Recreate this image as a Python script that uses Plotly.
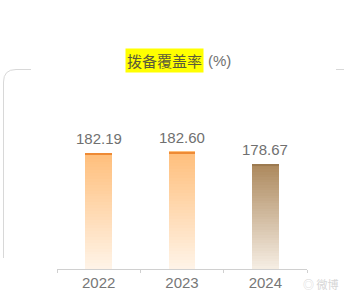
import plotly.graph_objects as go

# ---- data ----
categories = ["2022", "2023", "2024"]
values = [182.19, 182.60, 178.67]
value_labels = ["182.19", "182.60", "178.67"]
title_text = "拨备覆盖率"
unit_text = "(%)"

# ---- style ----
W, H = 344, 296
L, R, T, B = 57, 37, 100, 27
y_min, y_max = 145.9, 198.7
top_colors = [(255, 190, 122), (255, 190, 122), (172, 136, 92)]
bot_colors = [(255, 244, 232), (255, 244, 232), (246, 238, 228)]
edge_colors = ["#EE8A35", "#EE8A35", "#9C7A50"]
N = 40
bar_w = 0.32

fig = go.Figure()

def mix(c1, c2, t):
    return "rgb(%d,%d,%d)" % tuple(round(a + (b - a) * t) for a, b in zip(c1, c2))

# gradient bars as stacked slices derived from the values
for i in range(N):
    bases, heights, cols = [], [], []
    for v, tc, bc in zip(values, top_colors, bot_colors):
        seg = (v - y_min) / N
        bases.append(y_min + seg * i)
        heights.append(seg * 1.02)
        cols.append(mix(bc, tc, (i + 0.5) / N))
    fig.add_trace(go.Bar(x=categories, y=heights, base=bases, width=bar_w,
                         marker=dict(color=cols, line=dict(width=0)),
                         hoverinfo="skip", showlegend=False))

# top edge line of each bar
edge_h = 0.55
fig.add_trace(go.Bar(x=categories, y=[edge_h] * 3, base=[v - edge_h for v in values],
                     width=bar_w, marker=dict(color=edge_colors, line=dict(width=0)),
                     hoverinfo="skip", showlegend=False))

# value labels (x given as category index)
for i, (v, lab) in enumerate(zip(values, value_labels)):
    fig.add_annotation(x=i, y=v, text=lab, showarrow=False, yanchor="bottom",
                       yshift=4, font=dict(family="Liberation Sans, Arial", size=15, color="#707070"))

def px(x):
    return (x - L) / (W - L - R)

def py(y):
    return (H - B - y) / (H - T - B)

# title
fig.add_annotation(xref="paper", yref="paper", x=px(204), y=py(61), xanchor="right",
                   yanchor="middle", text=title_text, showarrow=False, bgcolor="#FFFF00",
                   borderpad=1,
                   font=dict(family="Noto Sans CJK SC", size=15, color="#5a5a3a"))
fig.add_annotation(xref="paper", yref="paper", x=px(206), y=py(61), xanchor="left",
                   yanchor="middle", text=unit_text, showarrow=False,
                   font=dict(family="Liberation Sans, Arial", size=15, color="#707070"))

# watermark
fig.add_annotation(xref="paper", yref="paper", x=px(340), y=py(284), xanchor="right",
                   yanchor="middle", text="◎ 微博", showarrow=False,
                   font=dict(family="Noto Sans CJK SC", size=11, color="#d6d6d6"))

# decorative rounded frame
path = "M %f,%f L %f,%f Q %f,%f %f,%f L %f,%f" % (
    px(3.5), py(258), px(3.5), py(82), px(3.5), py(69.5), px(16), py(69.5), px(31), py(69.5))
fig.add_shape(type="path", xref="paper", yref="paper", path=path,
              line=dict(color="#d8d8d8", width=1))
fig.add_shape(type="line", xref="paper", yref="paper", x0=px(336), x1=px(344),
              y0=py(69.5), y1=py(69.5), line=dict(color="#d8d8d8", width=1))

fig.update_layout(
    width=W, height=H, margin=dict(l=L, r=R, t=T, b=B, autoexpand=False),
    paper_bgcolor="white", plot_bgcolor="white",
    barmode="overlay", bargap=0,
    xaxis=dict(type="category", categoryorder="array", categoryarray=categories,
               range=[-0.5, 2.5], showline=True, linecolor="#d0d0d0", linewidth=1,
               ticks="outside", tickson="boundaries", ticklen=3, tickcolor="#d0d0d0",
               showgrid=False, tickangle=0, automargin=False,
               tickfont=dict(family="Liberation Sans, Arial", size=15, color="#777777")),
    yaxis=dict(range=[y_min, y_max], visible=False, showgrid=False, automargin=False),
)

fig.write_html("out.html")
